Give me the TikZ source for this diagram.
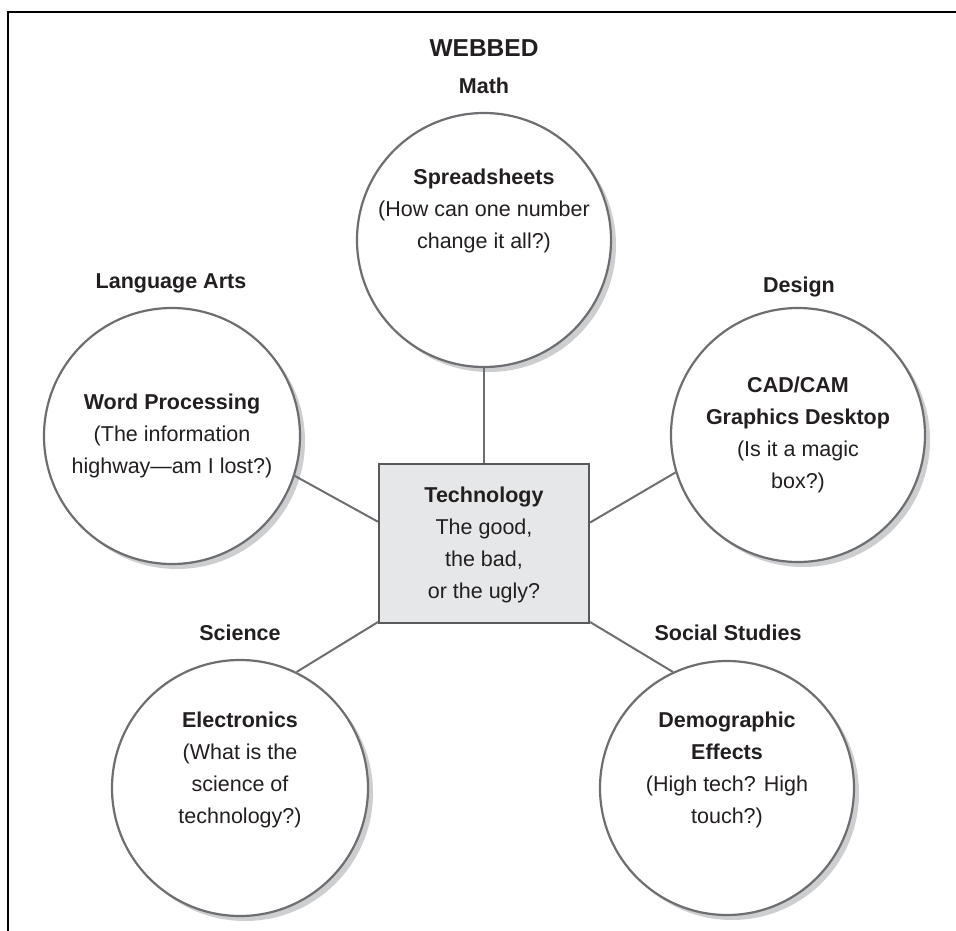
\documentclass[tikz,border=0pt]{standalone}
\usepackage{fontspec}
\setmainfont{Liberation Sans}
\usetikzlibrary{calc,shadows}
\definecolor{ringgray}{HTML}{6D6E71}
\definecolor{shadegray}{HTML}{CDCED0}
\definecolor{boxfill}{HTML}{E6E7E8}
\definecolor{boxline}{HTML}{58595B}
\definecolor{ink}{HTML}{231F20}
\begin{document}
\begin{tikzpicture}[x=1pt,y=-1pt,
  bubble/.style={circle, draw=ringgray, line width=2.2pt, fill=white,
    minimum size=#1, inner sep=0pt,
    general shadow={fill=shadegray, shadow xshift=5pt, shadow yshift=-5pt}},
  bubble/.default=254pt,
  txt/.style={text=ink, align=center, inner sep=0pt,
    font=\fontsize{21.5}{32}\selectfont},
  head/.style={txt, font=\fontsize{21.5}{32}\selectfont\bfseries},
  link/.style={draw=ringgray, line width=2pt},
  hub/.style={rectangle, draw=boxline, line width=2pt, fill=boxfill,
    minimum width=210pt, minimum height=159pt, inner sep=0pt}]
\useasboundingbox (0,0) rectangle (956,931);

% open frame: top and left rules
\draw[black, line width=2pt] (8,931) -- (8,12) -- (956,12);

% topic bubbles
\node[bubble] (ss)  at (484,240) {};
\node[bubble=256pt] (wp)  at (172,436) {};
\node[bubble] (cad) at (798,435) {};
\node[bubble=256pt] (el)  at (240,788) {};
\node[bubble] (de)  at (727,788) {};

% central box
\node[hub] (box) at (484,543.5) {};

% connectors from the box to each bubble
\draw[link] (ss.south) -- (box.north);
\draw[link] (wp.-18) -- ($(box.north west)!0.365!(box.south west)$);
\draw[link] (cad.-163) -- ($(box.north east)!0.37!(box.south east)$);
\draw[link] (el.64) -- ([yshift=2pt]box.south west);
\draw[link] (de.115) -- ([yshift=2pt]box.south east);

% titles
\node[txt, font=\fontsize{24.5}{30}\selectfont\bfseries] (title) at (484,48) {WEBBED};
\node[head] (lmath) at (484,86) {Math};
\node[head] (llang) at (171,283) {Language Arts};
\node[head] (ldes)  at (799,287) {Design};
\node[head] (lsci)  at (240,633) {Science};
\node[head] (lsoc)  at (728,633) {Social Studies};

% bubble texts
\node[txt] (tss) at (484,211) {\textbf{Spreadsheets}\\(How can one number\\change it all?)};
\node[txt] (twp) at (172,436) {\textbf{Word Processing}\\(The information\\highway—am I lost?)};
\node[txt] (tcad) at (798,435) {\textbf{CAD/CAM}\\\textbf{Graphics Desktop}\\(Is it a magic\\box?)};
\node[txt] (tel) at (240,770) {\textbf{Electronics}\\(What is the\\science of\\technology?)};
\node[txt] (tde) at (727,770) {\textbf{Demographic}\\\textbf{Effects}\\(High tech? High\\touch?)};
\node[txt] (tbox) at (484,545) {\textbf{Technology}\\The good,\\the bad,\\or the ugly?};
\end{tikzpicture}
\end{document}
